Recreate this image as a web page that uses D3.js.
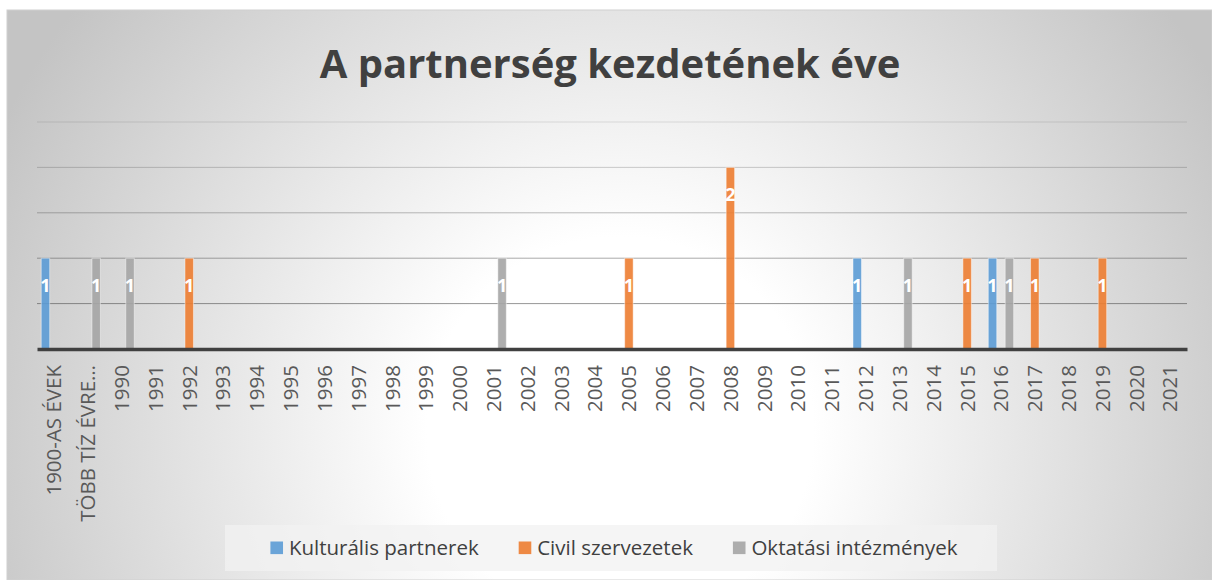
<!DOCTYPE html>
<html>
<head>
<meta charset="utf-8">
<script src="https://cdn.jsdelivr.net/npm/d3@7"></script>
<style>
  html, body { margin: 0; padding: 0; background: #fff; }
</style>
</head>
<body>
<div id="chart"></div>
<script>
var categories = ["1900-AS ÉVEK", "TÖBB TÍZ ÉVRE…", "1990", "1991", "1992", "1993", "1994", "1995",
    "1996", "1997", "1998", "1999", "2000", "2001", "2002", "2003", "2004", "2005", "2006", "2007",
    "2008", "2009", "2010", "2011", "2012", "2013", "2014", "2015", "2016", "2017", "2018", "2019",
    "2020", "2021"];

var seriesNames = ["Kulturális partnerek", "Civil szervezetek", "Oktatási intézmények"];

var kulturalis = [1, null, null, null, null, null, null, null, null, null, null, null, null, null, null, null, null,
    null, null, null, null, null, null, null, 1, null, null, null, 1, null, null, null, null, null];
var civil = [null, null, null, null, 1, null, null, null, null, null, null, null, null, null, null, null, null,
    1, null, null, 2, null, null, null, null, null, null, 1, null, 1, null, 1, null, null];
var oktatasi = [null, 1, 1, null, null, null, null, null, null, null, null, null, null, 1, null, null, null,
    null, null, null, null, null, null, null, null, 1, null, null, 1, null, null, null, null, null];

var yTicks = [0, 0.5, 1, 1.5, 2, 2.5];

var svgW = 1212;
var svgH = 580;
var margin = { left: 37, right: 25, top: 122, bottom: 231 };
var chartW = svgW - margin.left - margin.right;
var chartH = svgH - margin.top - margin.bottom;

var colors = ["#5B9BD5", "#ED7D31", "#A5A5A5"];
var allSeries = [kulturalis, civil, oktatasi];

var svg = d3.select("#chart")
            .append("svg")
            .attr("width", svgW)
            .attr("height", svgH)
            .style("display", "block");

// background: Excel style radial gradient
var defs = svg.append("defs");
var grad = defs.append("radialGradient")
               .attr("id", "bg")
               .attr("gradientUnits", "userSpaceOnUse")
               .attr("cx", 620).attr("cy", 430).attr("r", 690);
grad.append("stop").attr("offset", "0%").attr("stop-color", "#ffffff");
grad.append("stop").attr("offset", "28%").attr("stop-color", "#ffffff");
grad.append("stop").attr("offset", "100%").attr("stop-color", "#c4c4c4");

svg.append("rect")
   .attr("x", 7).attr("y", 10)
   .attr("width", svgW - 7).attr("height", svgH - 10)
   .attr("fill", "url(#bg)")
   .attr("stroke", "#d0d0d0")
   .attr("stroke-width", 1);

svg.append("text")
   .attr("x", 610)
   .attr("y", 78)
   .attr("text-anchor", "middle")
   .attr("font-family", "Open Sans")
   .attr("font-weight", "bold")
   .attr("font-size", 40)
   .attr("fill", "#404040")
   .text("A partnerség kezdetének éve");

var g = svg.append("g")
           .attr("transform", `translate(${margin.left}, ${margin.top})`);

var xScale = d3.scaleBand()
               .domain(categories)
               .range([0, chartW]);

var cw = xScale.bandwidth();
var xSub = d3.scaleBand()
             .domain(seriesNames)
             .range([cw * 0.125, cw * 0.875]);

var yScale = d3.scaleLinear()
               .domain([0, 2.5])
               .range([chartH, 0]);

var gridOpacity = d3.scaleLinear().domain([0.5, 2.5]).range([0.55, 0.15]);

// gridlines
g.append("g")
 .selectAll("line")
 .data(yTicks.filter(d => d > 0))
 .enter()
 .append("line")
 .attr("x1", 0)
 .attr("x2", chartW)
 .attr("y1", d => yScale(d))
 .attr("y2", d => yScale(d))
 .attr("stroke", "#404040")
 .attr("stroke-opacity", d => gridOpacity(d))
 .attr("stroke-width", 1);

// bars
var barData = [];
allSeries.forEach((vals, si) => {
    vals.forEach((v, ci) => {
        if (v != null) barData.push({ cat: categories[ci], series: seriesNames[si], color: colors[si], value: v });
    });
});

g.selectAll("rect.bar")
 .data(barData)
 .enter()
 .append("rect")
 .attr("class", "bar")
 .attr("x", d => xScale(d.cat) + xSub(d.series))
 .attr("y", d => yScale(d.value))
 .attr("width", xSub.bandwidth())
 .attr("height", d => chartH - yScale(d.value))
 .attr("fill", d => d.color)
 .attr("fill-opacity", 0.9)
 .attr("stroke", "#ffffff")
 .attr("stroke-opacity", 0.45)
 .attr("stroke-width", 1);

// axis
var bottomAxis = d3.axisBottom(xScale).tickSize(0).tickPadding(0);
var xAxisG = g.append("g")
              .attr("transform", `translate(0, ${chartH})`)
              .call(bottomAxis);
xAxisG.select(".domain")
      .attr("stroke", "#404040")
      .attr("stroke-width", 3.3);
xAxisG.selectAll("text")
      .attr("font-family", "Open Sans")
      .attr("font-size", 20.5)
      .attr("fill", "#595959")
      .attr("text-anchor", "end")
      .attr("dy", "0.36em")
      .attr("y", 0)
      .attr("transform", "translate(0, 16) rotate(-90)");

// data labels
g.selectAll("text.lbl")
 .data(barData)
 .enter()
 .append("text")
 .attr("class", "lbl")
 .attr("x", d => xScale(d.cat) + xSub(d.series) + xSub.bandwidth() / 2)
 .attr("y", d => yScale(d.value) + 34)
 .attr("text-anchor", "middle")
 .attr("font-family", "Open Sans")
 .attr("font-weight", "bold")
 .attr("font-size", 18)
 .attr("fill", "#ffffff")
 .text(d => d.value);

// legend
var legend = svg.append("g");
legend.append("rect")
      .attr("x", 225).attr("y", 525)
      .attr("width", 772).attr("height", 46)
      .attr("fill", "#f2f2f2")
      .attr("fill-opacity", 0.75);

var items = legend.selectAll("g.item")
                  .data(seriesNames)
                  .enter()
                  .append("g")
                  .attr("class", "item");
items.append("rect")
     .attr("width", 12.6).attr("height", 12.6)
     .attr("y", 541.5)
     .attr("fill", (d, i) => colors[i])
     .attr("fill-opacity", 0.9);
items.append("text")
     .attr("x", 18.5)
     .attr("y", 555)
     .attr("font-family", "Open Sans")
     .attr("font-size", 20.5)
     .attr("fill", "#404040")
     .text(d => d);

var widths = [];
items.each(function() { widths.push(18.5 + d3.select(this).select("text").node().getComputedTextLength()); });
var total = d3.sum(widths) + 40 * (widths.length - 1);
var lx = 614 - total / 2;
items.attr("transform", (d, i) => {
    var t = `translate(${lx}, 0)`;
    lx += widths[i] + 40;
    return t;
});
</script>
</body>
</html>
